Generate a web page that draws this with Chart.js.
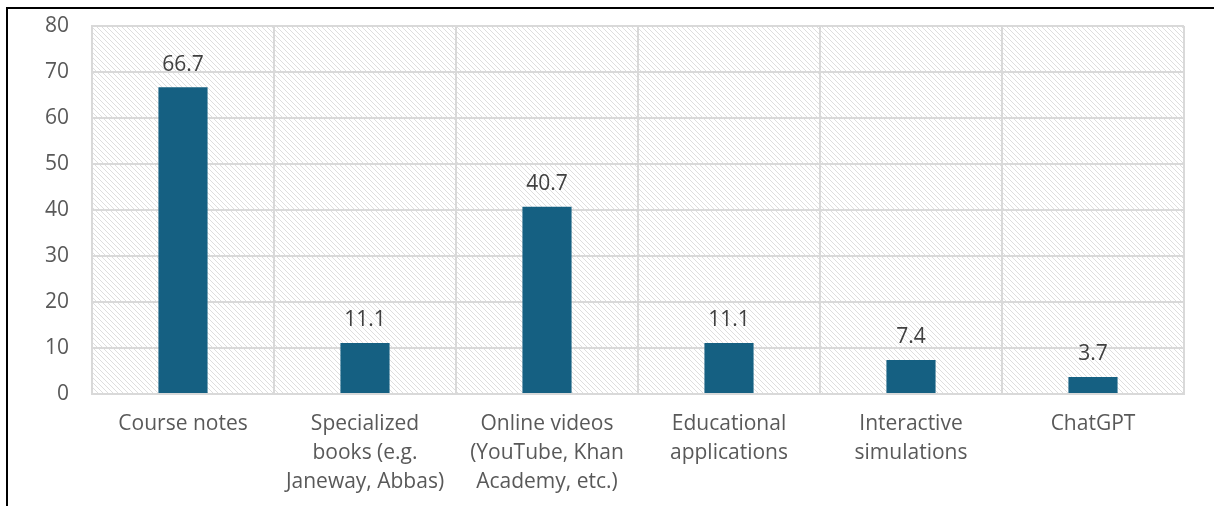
<!DOCTYPE html>
<html>
<head>
<meta charset="utf-8">
<script src="https://cdn.jsdelivr.net/npm/chart.js@4/dist/chart.umd.min.js"></script>
<style>
  html, body { margin: 0; padding: 0; background: #fff; }
  #wrap { position: relative; width: 1214px; height: 506px; }
</style>
</head>
<body>
<div id="wrap"><canvas id="chart"></canvas></div>
<script>
const categories = [
  "Course notes",
  ["Specialized", "books (e.g.", "Janeway, Abbas)"],
  ["Online videos", "(YouTube, Khan", "Academy, etc.)"],
  ["Educational", "applications"],
  ["Interactive", "simulations"],
  "ChatGPT"
];
const values = [66.7, 11.1, 40.7, 11.1, 7.4, 3.7];
const yTicks = [0, 10, 20, 30, 40, 50, 60, 70, 80];

const FONT = "'Open Sans', 'Liberation Sans', sans-serif";

// diagonal hatch used as the plot background
function hatchPattern(ctx) {
  const c = document.createElement("canvas");
  c.width = 5; c.height = 5;
  const p = c.getContext("2d");
  p.fillStyle = "#ffffff";
  p.fillRect(0, 0, 5, 5);
  p.strokeStyle = "#dedede";
  p.lineWidth = 1;
  p.beginPath();
  p.moveTo(-1, -1); p.lineTo(6, 6);
  p.moveTo(-1, 4); p.lineTo(1, 6);
  p.moveTo(4, -1); p.lineTo(6, 1);
  p.stroke();
  return ctx.createPattern(c, "repeat");
}

const backdrop = {
  id: "backdrop",
  beforeDraw(chart) {
    const { ctx, chartArea: a } = chart;
    ctx.save();
    ctx.fillStyle = hatchPattern(ctx);
    ctx.fillRect(a.left, a.top, a.right - a.left, a.bottom - a.top);
    // outer frame (top and left edges)
    ctx.strokeStyle = "#000";
    ctx.lineWidth = 2;
    ctx.beginPath();
    ctx.moveTo(7, chart.height);
    ctx.lineTo(7, 8);
    ctx.lineTo(chart.width, 8);
    ctx.stroke();
    ctx.restore();
  }
};

const valueLabels = {
  id: "valueLabels",
  afterDatasetsDraw(chart) {
    const { ctx } = chart;
    const meta = chart.getDatasetMeta(0);
    ctx.save();
    ctx.font = "21px " + FONT;
    ctx.fillStyle = "#404040";
    ctx.textAlign = "center";
    ctx.textBaseline = "bottom";
    meta.data.forEach((bar, i) => {
      ctx.fillText(values[i].toFixed(1), bar.x, bar.y - 12);
    });
    ctx.restore();
  }
};

new Chart(document.getElementById("chart"), {
  type: "bar",
  data: {
    labels: categories,
    datasets: [{
      data: values,
      backgroundColor: "#156082",
      categoryPercentage: 1,
      barPercentage: 0.27
    }]
  },
  options: {
    responsive: true,
    maintainAspectRatio: false,
    animation: false,
    layout: { padding: { top: 26, right: 30, left: 0, bottom: 0 } },
    plugins: { legend: { display: false }, tooltip: { enabled: false } },
    scales: {
      x: {
        grid: { color: "#d9d9d9", lineWidth: 2, offset: true, drawTicks: false },
        border: { color: "#d9d9d9", width: 2 },
        ticks: {
          color: "#595959",
          font: { family: FONT, size: 21, lineHeight: 1.4 },
          padding: 15,
          maxRotation: 0,
          autoSkip: false
        },
        afterFit(s) { s.height = 112; s.paddingLeft = 0; s.paddingRight = 0; }
      },
      y: {
        min: 0,
        max: 80,
        afterBuildTicks(s) { s.ticks = yTicks.map(v => ({ value: v })); },
        grid: { color: "#d9d9d9", lineWidth: 2, drawTicks: false },
        border: { color: "#d9d9d9", width: 2 },
        ticks: {
          color: "#595959",
          font: { family: FONT, size: 21 },
          padding: 23
        },
        afterFit(s) { s.width = 92; s.paddingTop = 0; s.paddingBottom = 0; }
      }
    }
  },
  plugins: [backdrop, valueLabels]
});
</script>
</body>
</html>
